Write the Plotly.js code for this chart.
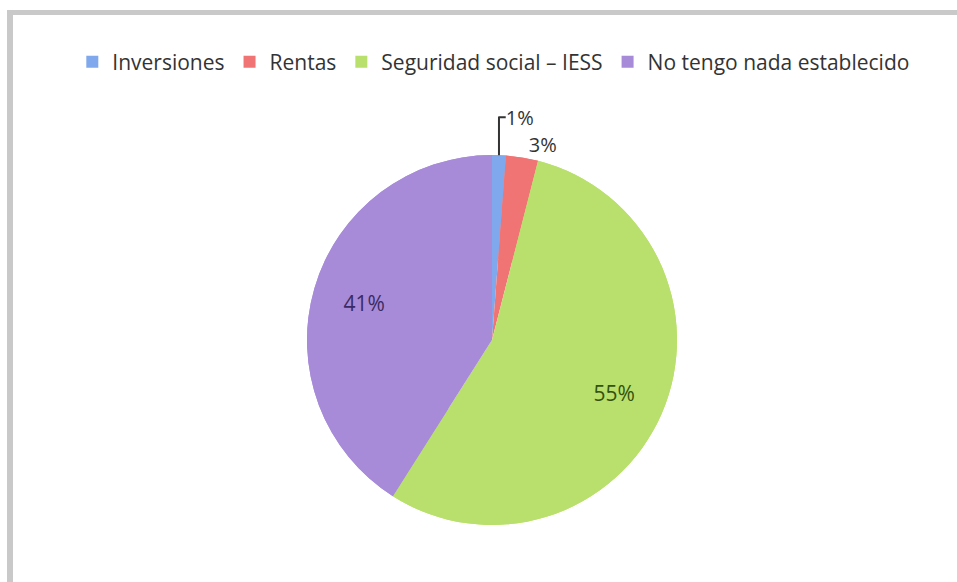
<!DOCTYPE html>
<html>
<head>
<meta charset="utf-8">
<script src="https://cdn.plot.ly/plotly-3.0.1.min.js"></script>
<style>
  html, body { margin: 0; padding: 0; background: #ffffff; }
  #chart { position: absolute; left: 0; top: 0; width: 957px; height: 582px; }
  #frame { position: absolute; left: 7px; top: 10px; width: 950px; height: 572px;
           border-left: 6px solid #c9c9c9; border-top: 5px solid #c9c9c9;
           box-sizing: border-box; pointer-events: none; }
</style>
</head>
<body>
<div id="chart"></div>
<div id="frame"></div>
<script>
// Data
const categories = ["Inversiones", "Rentas", "Seguridad social – IESS", "No tengo nada establecido"];
const shares = [1.2, 2.8, 55, 41];
const sliceColors = ["#7fa9ec", "#f07474", "#b9e06c", "#a88bd8"];
const labelColors = ["#333333", "#333333", "#33520e", "#3a2a63"];
const labelPositions = ["outside", "outside", "inside", "inside"];

const W = 957, H = 582;
const cx = 492, cy = 340, r = 185;
const dom = {
  x: [(cx - r) / W, (cx + r) / W],
  y: [(H - cy - r) / H, (H - cy + r) / H]
};
const FONT = "'Open Sans', Lato, sans-serif";

// full pie (slices only)
const base = {
  type: "pie",
  labels: categories,
  values: shares,
  sort: false,
  direction: "clockwise",
  rotation: 0,
  marker: { colors: sliceColors, line: { width: 0 } },
  textinfo: "none",
  hoverinfo: "skip",
  showlegend: true,
  domain: dom
};

// ring on top, same slices, carries the labels further out like the original
const ring = {
  type: "pie",
  labels: categories,
  values: shares,
  sort: false,
  direction: "clockwise",
  rotation: 0,
  hole: 0.44,
  marker: { colors: sliceColors, line: { width: 0 } },
  texttemplate: "%{percent:.0%}",
  textposition: labelPositions,
  insidetextorientation: "horizontal",
  textfont: { family: FONT, size: 21, color: labelColors },
  outsidetextfont: { family: FONT, size: 20, color: "#333333" },
  hoverinfo: "label+percent",
  showlegend: false,
  domain: dom
};

const layout = {
  width: W,
  height: H,
  margin: { l: 0, r: 0, t: 0, b: 0 },
  paper_bgcolor: "#ffffff",
  showlegend: true,
  legend: {
    orientation: "h",
    x: 0.516,
    xanchor: "center",
    y: 1 - 62 / H,
    yanchor: "middle",
    font: { family: FONT, size: 21, color: "#333333" },
    itemwidth: 30,
    tracegroupgap: 0
  }
};

Plotly.newPlot("chart", [base, ring], layout, { displayModeBar: false, staticPlot: true });
</script>
</body>
</html>
